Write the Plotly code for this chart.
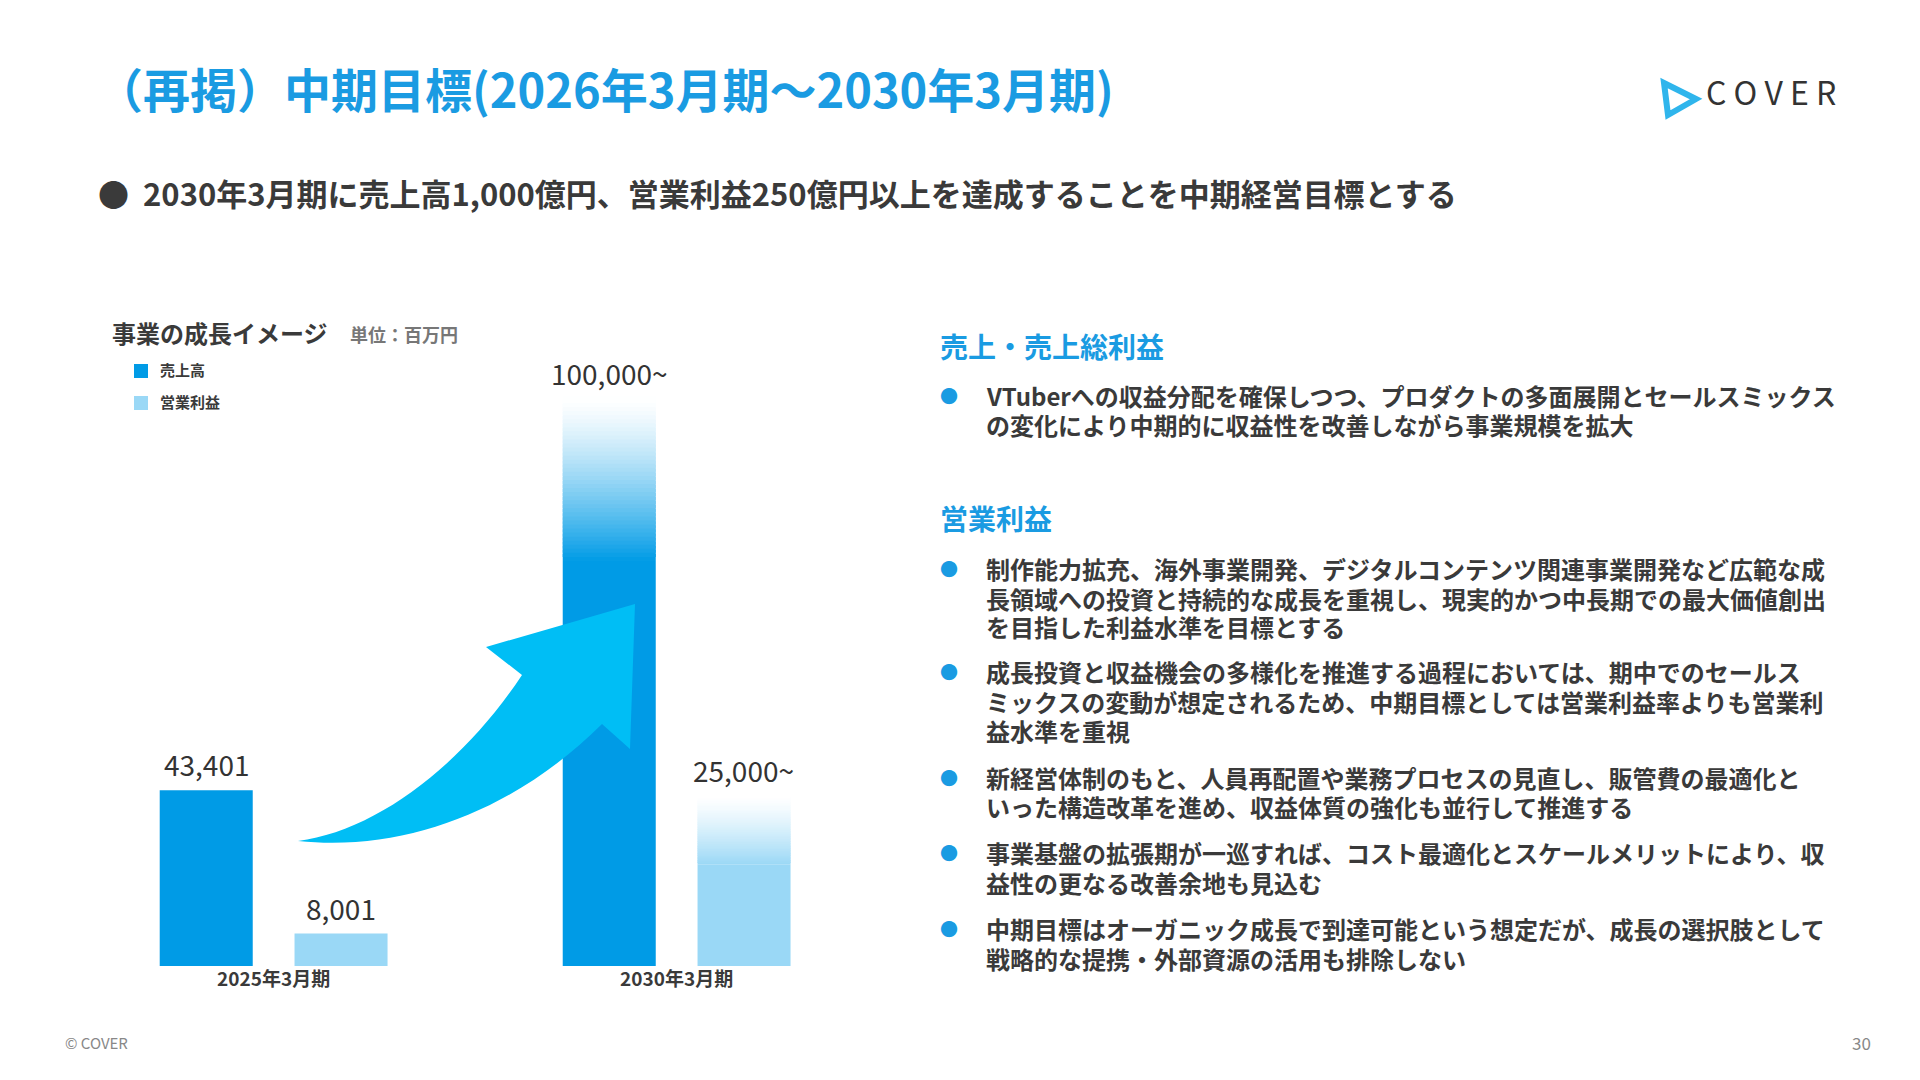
import plotly.graph_objects as go

categories = ["2025年3月期", "2030年3月期"]
sales = [43401, 100000]
profit = [8001, 25000]
sales_labels = ["43,401", "100,000~"]
profit_labels = ["8,001", "25,000~"]
fade_extra = [0, 40000]
fade_extra_p = [0, 17000]

BLUE = "#009BE6"
LIGHT = "#9AD8F6"
TXT = "#3a3a3a"
FONT = "Noto Sans CJK JP"
DY = 9

fig = go.Figure()
fig.add_bar(x=categories, y=sales, name="売上高", marker=dict(color=BLUE, line_width=0), offsetgroup="s")
fig.add_bar(x=categories, y=profit, name="営業利益", marker=dict(color=LIGHT, line_width=0), offsetgroup="p")

def hex2rgb(h):
    return tuple(int(h[i:i+2], 16) for i in (1, 3, 5))

N = 40
for vals, extra, col, grp in [(sales, fade_extra, BLUE, "s"), (profit, fade_extra_p, LIGHT, "p")]:
    r, g, b = hex2rgb(col)
    for i, (v, e) in enumerate(zip(vals, extra)):
        if e <= 0:
            continue
        for k in range(N):
            t = 1 - (k + 0.5) / N
            a = t ** 1.3
            c = tuple(int(round(255 + (cc - 255) * a)) for cc in (r, g, b))
            fig.add_bar(x=[categories[i]], y=[e / N * 1.8], base=[v + e * k / N], offsetgroup=grp,
                        marker=dict(color=f"rgb({c[0]},{c[1]},{c[2]})", line_width=0),
                        showlegend=False, hoverinfo="skip")

OFF = 0.167
def xc(i, grp):
    return i + (-OFF if grp == "s" else OFF)
for i in range(2):
    fig.add_annotation(x=xc(i, "s"), y=sales[i] + fade_extra[i], text=sales_labels[i], showarrow=False,
                       yanchor="bottom", yshift=4, font=dict(size=28, color="#333", family=FONT))
    fig.add_annotation(x=xc(i, "p"), y=profit[i] + fade_extra_p[i], text=profit_labels[i], showarrow=False,
                       yanchor="bottom", yshift=4, font=dict(size=28, color="#333", family=FONT))

fig.update_layout(
    width=1920, height=1080, margin=dict(l=0, r=0, t=0, b=0),
    paper_bgcolor="white", plot_bgcolor="white",
    barmode="group", bargap=0.331, bargroupgap=0.31,
    font=dict(family=FONT, color=TXT),
    xaxis=dict(domain=[0.0334, 0.4532], range=[-0.5, 1.5], showgrid=False, showline=False,
               ticks="", tickfont=dict(size=19, color=TXT, family=FONT)),
    yaxis=dict(domain=[0.113, 0.6755], range=[0, 150000], visible=False),
    showlegend=False,
)
fig.update_xaxes(ticktext=[f"<b>{c}</b>" for c in categories], tickvals=categories)

def P(x, y):
    return f"{x/1920:.5f},{1-y/1080:.5f}"

arrow = ("M " + P(290, 833) + " C " + P(404, 845) + " " + P(514, 796) + " " + P(594, 716) +
         " L " + P(622, 741) + " L " + P(627, 596) + " L " + P(478, 639) + " L " + P(514, 667) +
         " C " + P(453, 759) + " " + P(367, 823) + " " + P(290, 833) + " Z")
fig.add_shape(type="path", xref="paper", yref="paper", path=arrow, fillcolor="#00BEF5", line_width=0)

tri = "M " + P(1656, 75) + " L " + P(1688, 91) + " L " + P(1660, 107) + " Z"
fig.add_shape(type="path", xref="paper", yref="paper", path=tri, fillcolor="rgba(0,0,0,0)",
              line=dict(color="#2fb5ec", width=6))

# legend
for y, col, lab in [(363, BLUE, "売上高"), (395, LIGHT, "営業利益")]:
    fig.add_shape(type="rect", xref="paper", yref="paper", x0=126/1920, x1=140/1920,
                  y0=1-(y+7)/1080, y1=1-(y-7)/1080, fillcolor=col, line_width=0)
    fig.add_annotation(xref="paper", yref="paper", x=150/1920, y=1-(y-2)/1080, text=f"<b>{lab}</b>",
                       showarrow=False, xanchor="left", yanchor="middle",
                       font=dict(size=15, color=TXT, family=FONT))

def txt(x, y, s, size, color=TXT, anchor="left", bold=False):
    fig.add_annotation(xref="paper", yref="paper", x=x/1920, y=1-(y-DY)/1080, text=(f"<b>{s}</b>" if bold else s),
                       showarrow=False, xanchor=anchor, yanchor="middle",
                       font=dict(size=size, color=color, family=FONT))

txt(86, 88, "（再掲）中期目標(2026年3月期～2030年3月期)", 47, "#1A9BE2", bold=True)
txt(1696, 92, "C O V E R", 32, "#333")
txt(88, 193, "●  2030年3月期に売上高1,000億円、営業利益250億円以上を達成することを中期経営目標とする", 31, TXT, bold=True)
txt(102, 333, "事業の成長イメージ", 24, TXT, bold=True)
txt(340, 335, "単位：百万円", 18, "#777", bold=True)
txt(55, 1043, "© COVER", 15, "#888")
txt(1865, 1043, "30", 17, "#888", anchor="right")

txt(930, 347, "売上・売上総利益", 28, "#1A9BE2", bold=True)
txt(930, 519, "営業利益", 28, "#1A9BE2", bold=True)

bullets = [
    ([396, 425], ["VTuberへの収益分配を確保しつつ、プロダクトの多面展開とセールスミックス",
                  "の変化により中期的に収益性を改善しながら事業規模を拡大"]),
    ([569, 599, 627], ["制作能力拡充、海外事業開発、デジタルコンテンツ関連事業開発など広範な成",
                       "長領域への投資と持続的な成長を重視し、現実的かつ中長期での最大価値創出",
                       "を目指した利益水準を目標とする"]),
    ([672, 702, 731], ["成長投資と収益機会の多様化を推進する過程においては、期中でのセールス",
                       "ミックスの変動が想定されるため、中期目標としては営業利益率よりも営業利",
                       "益水準を重視"]),
    ([778, 807], ["新経営体制のもと、人員再配置や業務プロセスの見直し、販管費の最適化と",
                  "いった構造改革を進め、収益体質の強化も並行して推進する"]),
    ([853, 883], ["事業基盤の拡張期が一巡すれば、コスト最適化とスケールメリットにより、収",
                  "益性の更なる改善余地も見込む"]),
    ([929, 959], ["中期目標はオーガニック成長で到達可能という想定だが、成長の選択肢として",
                  "戦略的な提携・外部資源の活用も排除しない"]),
]
for ys, lines in bullets:
    txt(930, ys[0], "●", 18, "#1A9BE2")
    for y, l in zip(ys, lines):
        txt(976, y, l, 24, TXT, bold=True)

fig.write_html("out.html")
